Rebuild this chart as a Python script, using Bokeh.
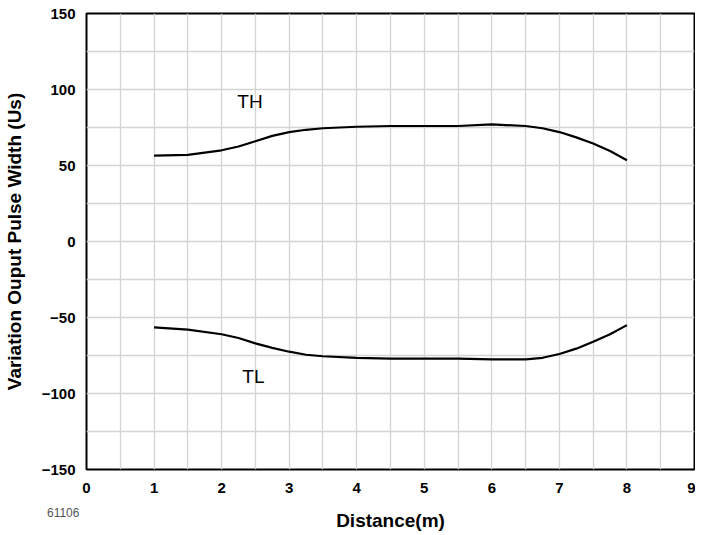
import numpy as np
from bokeh.plotting import figure
from bokeh.models import FixedTicker, Range1d, Label
from bokeh.core.properties import value
from bokeh.embed import file_html
from bokeh.resources import INLINE

# ---- data ----
distance = [1, 1.5, 2, 2.25, 2.5, 2.75, 3, 3.25, 3.5, 4, 4.5, 5, 5.5, 6, 6.5, 6.75, 7, 7.25, 7.5, 7.75, 8]
th_values = [56.5, 57, 60, 62.5, 66, 69.5, 72, 73.5, 74.5, 75.5, 76, 76, 76, 77, 76, 74.5, 72, 68.5, 64.5, 59.5, 53.5]
tl_values = [-56.5, -58, -61, -63.5, -67, -70, -72.5, -74.5, -75.5, -76.5, -77, -77, -77, -77.5, -77.5, -76.5, -74, -70.5, -66, -61, -55]
x_ticks = [0, 1, 2, 3, 4, 5, 6, 7, 8, 9]
y_ticks = [-150, -100, -50, 0, 50, 100, 150]
series_labels = ["TH", "TL"]
label_pos_x = [2.42, 2.47]
label_pos_y = [92.4, -89]
figure_code = "61106"

FONT = "Liberation Sans"

p = figure(width=695, height=533, output_backend="svg", toolbar_location=None,
           x_range=Range1d(0, 9), y_range=Range1d(-150, 150),
           min_border_left=79, min_border_right=1, min_border_top=13, min_border_bottom=60,
           background_fill_color="white", border_fill_color="white")

p.outline_line_color = "black"
p.outline_line_width = 2

# grid
p.xgrid.ticker = FixedTicker(ticks=list(np.arange(0, 9.01, 0.5)))
p.ygrid.ticker = FixedTicker(ticks=list(np.arange(-150, 150.1, 25)))
for g in (p.xgrid, p.ygrid):
    g.grid_line_color = "#d4d4d4"
    g.grid_line_width = 1.3

# axes
p.xaxis.ticker = FixedTicker(ticks=x_ticks)
p.yaxis.ticker = FixedTicker(ticks=y_ticks)
for ax in (p.xaxis, p.yaxis):
    ax.axis_line_color = None
    ax.major_tick_line_color = None
    ax.minor_tick_line_color = None
    ax.major_tick_out = 0
    ax.major_tick_in = 0
    ax.major_label_text_font = FONT
    ax.major_label_text_font_style = "bold"
    ax.major_label_text_font_size = "15px"
    ax.major_label_text_color = "black"
    ax.axis_label_text_font = FONT
    ax.axis_label_text_font_style = "bold"
    ax.axis_label_text_font_size = "19px"
    ax.axis_label_text_color = "black"

p.xaxis.axis_label = "Distance(m)"
p.yaxis.axis_label = "Variation Ouput Pulse Width (Us)"
p.xaxis.major_label_standoff = 13
p.yaxis.major_label_standoff = 11
p.xaxis.axis_label_standoff = 14
p.yaxis.axis_label_standoff = 14

# curves
p.line(distance, th_values, line_color="black", line_width=2.2)
p.line(distance, tl_values, line_color="black", line_width=2.2)

# series labels
p.text(x=label_pos_x, y=label_pos_y, text=series_labels,
       text_font=value(FONT), text_font_size="19px", text_color="black",
       text_align="center", text_baseline="middle")

# figure code at bottom left (in a side panel so it is not clipped to the frame)
p.add_layout(Label(x=-0.585, y=-178.5, text=figure_code,
                   text_font=FONT, text_font_size="12px", text_color="#555555",
                   text_align="left", text_baseline="middle"), "above")

open("out.html", "w").write(file_html(p, INLINE))
